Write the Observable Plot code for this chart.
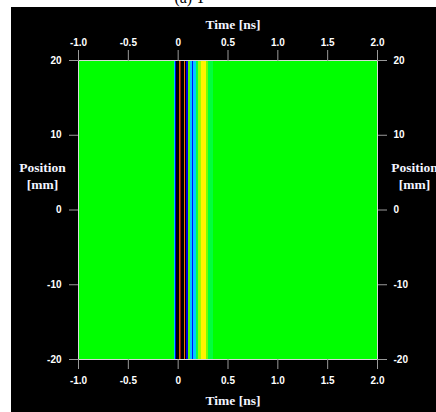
<!DOCTYPE html>
<html>
<head>
<meta charset="utf-8">
<script src="https://cdn.jsdelivr.net/npm/d3@7"></script>
<script src="https://cdn.jsdelivr.net/npm/@observablehq/plot@0.6"></script>
<style>
  html, body { margin: 0; padding: 0; background: #ffffff; }
  #wrap { position: relative; width: 436px; height: 412px; overflow: hidden; }
  #title { position: absolute; left: 160px; top: -11px; width: 60px; text-align: center;
           font: 16px "Liberation Serif", serif; color: #000; }
  #chart { position: absolute; left: 11px; top: 7px; }
</style>
</head>
<body>
<div id="wrap">
  <div id="title">(a) T</div>
  <div id="chart"></div>
</div>
<script>
// Time-axis cells (ns): start of each constant-colour stripe; last entry is the end of the window
const cellStart = [-1.0, -0.035, -0.025, -0.015, 0.01, 0.02, 0.03, 0.06, 0.07, 0.08, 0.10, 0.12, 0.14, 0.15, 0.18, 0.20, 0.23, 0.28, 0.30, 0.35, 2.0];
// Normalised field amplitude in each stripe (uniform along position)
const cellValue = [0, -0.4, -0.7, -1.0, 0.75, 0.95, -1.0, 0.7, -1.0, -0.7, 0.1, -0.4, -0.65, -0.4, -0.1, 0.2, 0.36, 0.15, -0.08, 0];

const timeTicks = [-1.0, -0.5, 0, 0.5, 1.0, 1.5, 2.0];
const positionTicks = [-20, -10, 0, 10, 20];
const colorStops = [-1, -0.66, -0.33, 0, 0.33, 0.66, 1];
const colorRange = ["#000000", "#0000ff", "#00ffff", "#00ff00", "#ffff00", "#ff8000", "#800000"];

const cells = cellValue.map((v, i) => ({t0: cellStart[i], t1: cellStart[i + 1], v}));

const fmtX = d => d === 0 ? "0" : d.toFixed(1);
const fmtY = d => String(d);
const tickFont = {fontFamily: "Liberation Sans", fontSize: 10, fontWeight: "bold", fill: "#ffffff"};

const titleFont = {fontFamily: "'Liberation Serif', 'Times New Roman', serif", fontSize: 13.5, fontWeight: "bold", fill: "#f2f4ff"};

const chart = Plot.plot({
  width: 425,
  height: 405,
  marginLeft: 67,
  marginRight: 59,
  marginTop: 53,
  marginBottom: 53,
  style: {background: "#000000", color: "#9a9a9a", overflow: "visible", fontFamily: "'Liberation Sans', Arial, sans-serif", fontSize: "10px"},
  x: {domain: [timeTicks[0], timeTicks[timeTicks.length - 1]]},
  y: {domain: [positionTicks[0], positionTicks[positionTicks.length - 1]]},
  color: {type: "linear", domain: colorStops, range: colorRange, clamp: true},
  marks: [
    Plot.frame({fill: "#00ff00"}),
    Plot.rect(cells, {x1: "t0", x2: "t1", fill: "v", shapeRendering: "crispEdges"}),
    Plot.frame({stroke: "#d8d8d8", strokeWidth: 1}),
    Plot.axisX({anchor: "top", ticks: timeTicks, tickFormat: fmtX, tickSize: 11, tickPadding: 4, label: null, ...tickFont}),
    Plot.axisX({anchor: "bottom", ticks: timeTicks, tickFormat: fmtX, tickSize: 10, tickPadding: 7, label: null, ...tickFont}),
    Plot.axisY({anchor: "left", ticks: positionTicks, tickFormat: fmtY, tickSize: 9, tickPadding: 8, label: null, ...tickFont}),
    Plot.axisY({anchor: "right", ticks: positionTicks, tickFormat: fmtY, tickSize: 9, tickPadding: 7, label: null, ...tickFont}),
    Plot.text(["Time [ns]"], {frameAnchor: "top", dx: 5, dy: -36, lineAnchor: "middle", textAnchor: "middle", ...titleFont}),
    Plot.text(["Time [ns]"], {frameAnchor: "bottom", dx: 5, dy: 41, lineAnchor: "middle", textAnchor: "middle", ...titleFont}),
    Plot.text(["Position\n[mm]"], {frameAnchor: "left", dx: -36, dy: -35, lineAnchor: "middle", textAnchor: "middle", lineHeight: 1.3, ...titleFont}),
    Plot.text(["Position\n[mm]"], {frameAnchor: "right", dx: 37, dy: -35, lineAnchor: "middle", textAnchor: "middle", lineHeight: 1.3, ...titleFont})
  ]
});
document.getElementById("chart").appendChild(chart);
</script>
</body>
</html>
